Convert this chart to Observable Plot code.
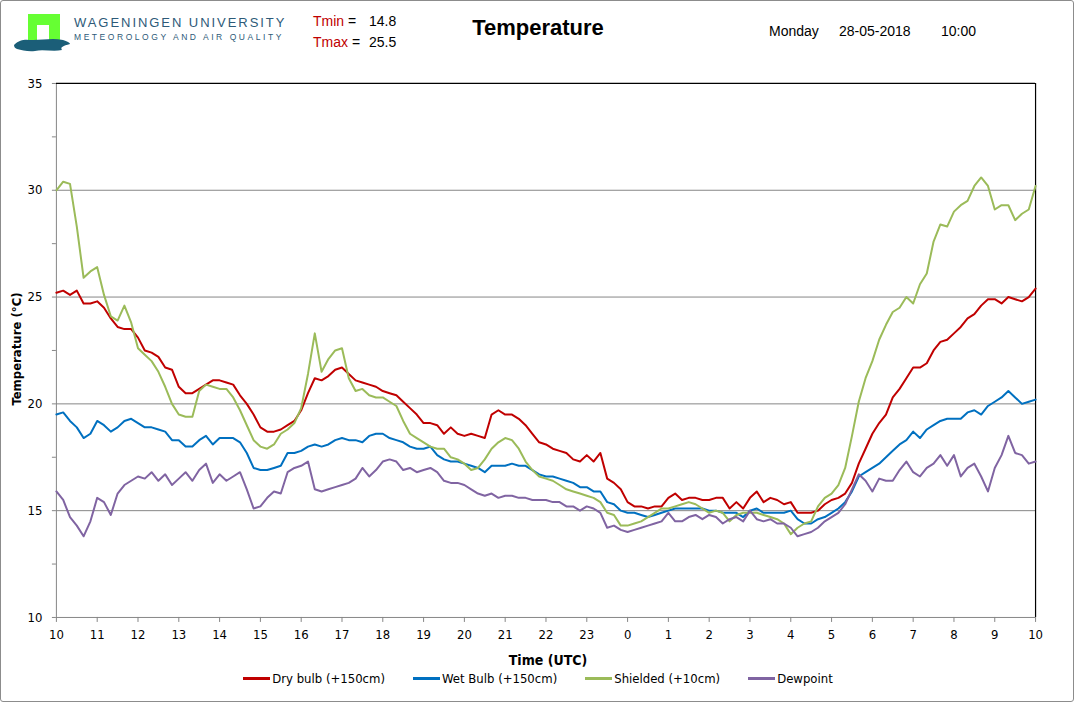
<!DOCTYPE html>
<html>
<head>
<meta charset="utf-8">
<script src="https://cdn.jsdelivr.net/npm/d3@7"></script>
<script src="https://cdn.jsdelivr.net/npm/@observablehq/plot@0.6"></script>
<style>
  html, body { margin: 0; padding: 0; background: #fff; }
  #page { position: relative; width: 1072px; height: 700px; border: 1px solid #8c8c8c; border-radius: 3px; overflow: hidden; background: #fff;
          font-family: 'Liberation Sans Narrow', 'DejaVu Sans Condensed', 'Open Sans', sans-serif; color: #000; }
  .abs { position: absolute; white-space: nowrap; }
  #plotwrap { position: absolute; left: 0; top: 62px; }
  #legend { position: absolute; top: 670px; left: 0; width: 1074px; display: flex; justify-content: center; gap: 28px; font-size: 13px; }
  #legend .item { display: flex; align-items: center; }
  #legend .sw { width: 27px; height: 3px; margin-right: 2px; }
</style>
</head>
<body>
<div id="page">
  <svg class="abs" style="left:12px;top:12px" width="60" height="40" viewBox="0 0 60 40">
    <rect x="15" y="1" width="32" height="28" fill="#66ff33"/>
    <rect x="24" y="12" width="12" height="18" fill="#fff"/>
    <path d="M1,32 C8,25 14,27 20,27 C30,27 40,25 50,27 C54,28 57,30 57,31 C50,33 47,34 49,37 C40,39 30,36 22,38 C15,39 9,37 4,36 C2,35 1,34 1,32 Z" fill="#1b5e78"/>
  </svg>
  <div class="abs" style="left:73px;top:14px;font-family:'Liberation Sans',sans-serif;font-size:13px;letter-spacing:1.95px;color:#2d5a78">WAGENINGEN UNIVERSITY</div>
  <div class="abs" style="left:73px;top:31px;font-family:'Liberation Sans',sans-serif;font-size:8.5px;letter-spacing:2.55px;color:#2d5a78">METEOROLOGY AND AIR QUALITY</div>
  <div class="abs" style="left:312px;top:12px;font-family:'Liberation Sans',sans-serif;font-size:14px"><span style="color:#c00000">Tmin</span> =</div>
  <div class="abs" style="left:368px;top:12px;font-family:'Liberation Sans',sans-serif;font-size:14px" id="tmin"></div>
  <div class="abs" style="left:312px;top:33px;font-family:'Liberation Sans',sans-serif;font-size:14px"><span style="color:#c00000">Tmax</span> =</div>
  <div class="abs" style="left:368px;top:33px;font-family:'Liberation Sans',sans-serif;font-size:14px" id="tmax"></div>
  <div class="abs" style="left:0;width:1074px;top:14px;text-align:center;font-family:'Liberation Sans',sans-serif;font-weight:bold;font-size:22px">Temperature</div>
  <div class="abs" style="left:768px;top:22px;font-family:'Liberation Sans',sans-serif;font-size:14px">Monday</div>
  <div class="abs" style="left:838px;top:22px;font-family:'Liberation Sans',sans-serif;font-size:14px">28-05-2018</div>
  <div class="abs" style="left:940px;top:22px;font-family:'Liberation Sans',sans-serif;font-size:14px">10:00</div>
  <div id="plotwrap"></div>
  <div class="abs" style="left:15px;top:348px;width:0;height:0">
    <div style="position:absolute;transform:translate(-50%,-50%) rotate(-90deg);font-weight:bold;font-size:13px;white-space:nowrap">Temperature (°C)</div>
  </div>
  <div class="abs" style="left:0;width:1094px;top:651px;text-align:center;font-weight:bold;font-size:14px">Time (UTC)</div>
  <div id="legend"></div>
</div>
<script>
// Header values
const tminText = "14.8";
const tmaxText = "25.5";

// Series metadata
const seriesNames = ["Dry bulb (+150cm)", "Wet Bulb (+150cm)", "Shielded (+10cm)", "Dewpoint"];
const seriesColors = ["#c00000", "#0070c0", "#9bbb59", "#8064a2"];

// X tick labels (hours UTC), every hour from 10:00 to 10:00 next day
const hourLabels = [10,11,12,13,14,15,16,17,18,19,20,21,22,23,0,1,2,3,4,5,6,7,8,9,10];
const yTicks = [10, 15, 20, 25, 30, 35];
const yMinorTicks = [12.5, 17.5, 22.5, 27.5, 32.5];

// 10-minute samples, starting 10:00 UTC
const dryBulb = [
25.2,25.3,25.1,25.3,24.7,24.7,24.8,24.5,24.0,23.6,23.5,23.5,23.1,22.5,22.4,22.2,21.7,21.6,20.8,20.5,
20.5,20.7,20.9,21.1,21.1,21.0,20.9,20.4,20.0,19.5,18.9,18.7,18.7,18.8,19.0,19.2,19.7,20.5,21.2,21.1,
21.3,21.6,21.7,21.4,21.1,21.0,20.9,20.8,20.6,20.5,20.4,20.1,19.8,19.5,19.1,19.1,19.0,18.6,18.9,18.6,
18.5,18.6,18.5,18.4,19.5,19.7,19.5,19.5,19.3,19.0,18.6,18.2,18.1,17.9,17.8,17.7,17.4,17.3,17.6,17.3,
17.7,16.5,16.3,16.0,15.4,15.2,15.2,15.1,15.2,15.2,15.6,15.8,15.5,15.6,15.6,15.5,15.5,15.6,15.6,15.1,
15.4,15.1,15.6,15.9,15.4,15.6,15.5,15.3,15.4,14.9,14.9,14.9,15.0,15.3,15.5,15.6,15.8,16.3,17.2,17.9,
18.6,19.1,19.5,20.3,20.7,21.2,21.7,21.7,21.9,22.5,22.9,23.0,23.3,23.6,24.0,24.2,24.6,24.9,24.9,24.7,
25.0,24.9,24.8,25.0,25.4];

const wetBulb = [
19.5,19.6,19.2,18.9,18.4,18.6,19.2,19.0,18.7,18.9,19.2,19.3,19.1,18.9,18.9,18.8,18.7,18.3,18.3,18.0,
18.0,18.3,18.5,18.1,18.4,18.4,18.4,18.2,17.7,17.0,16.9,16.9,17.0,17.1,17.7,17.7,17.8,18.0,18.1,18.0,
18.1,18.3,18.4,18.3,18.3,18.2,18.5,18.6,18.6,18.4,18.3,18.2,18.0,17.9,17.9,18.0,17.6,17.4,17.3,17.3,
17.2,17.1,17.0,16.8,17.1,17.1,17.1,17.2,17.1,17.1,16.9,16.7,16.6,16.6,16.5,16.4,16.3,16.1,16.1,15.9,
15.9,15.4,15.3,15.0,14.9,14.9,14.8,14.7,14.8,14.9,15.0,15.1,15.1,15.1,15.1,15.1,15.0,15.0,14.9,14.9,
14.9,14.7,15.0,15.1,14.9,14.9,14.9,14.9,15.0,14.6,14.4,14.4,14.6,14.7,14.9,15.1,15.4,15.9,16.6,16.8,
17.0,17.2,17.5,17.8,18.1,18.3,18.7,18.4,18.8,19.0,19.2,19.3,19.3,19.3,19.6,19.7,19.5,19.9,20.1,20.3,
20.6,20.3,20.0,20.1,20.2];

const shielded = [
30.0,30.4,30.3,28.3,25.9,26.2,26.4,25.1,24.1,23.9,24.6,23.8,22.6,22.3,22.0,21.5,20.8,20.0,19.5,19.4,
19.4,20.6,20.9,20.8,20.7,20.7,20.3,19.7,19.0,18.3,18.0,17.9,18.1,18.6,18.8,19.1,19.8,21.4,23.3,21.5,
22.1,22.5,22.6,21.2,20.6,20.7,20.4,20.3,20.3,20.1,19.9,19.2,18.6,18.4,18.2,18.0,17.9,17.9,17.5,17.4,
17.2,16.9,17.0,17.4,17.9,18.2,18.4,18.3,17.9,17.3,16.9,16.6,16.5,16.4,16.2,16.0,15.9,15.8,15.7,15.6,
15.4,14.9,14.8,14.3,14.3,14.4,14.5,14.7,14.9,15.1,15.1,15.2,15.3,15.4,15.3,15.1,14.9,15.0,14.9,14.5,
14.8,14.9,14.9,14.9,14.8,14.7,14.6,14.4,13.9,14.2,14.4,14.5,15.2,15.6,15.8,16.2,17.0,18.5,20.1,21.2,
22.0,23.0,23.7,24.3,24.5,25.0,24.7,25.6,26.1,27.6,28.4,28.3,29.0,29.3,29.5,30.2,30.6,30.2,29.1,29.3,
29.3,28.6,28.9,29.1,30.2];

const dewpoint = [
15.9,15.5,14.7,14.3,13.8,14.5,15.6,15.4,14.8,15.8,16.2,16.4,16.6,16.5,16.8,16.4,16.7,16.2,16.5,16.8,
16.4,16.9,17.2,16.3,16.7,16.4,16.6,16.8,16.0,15.1,15.2,15.6,15.9,15.8,16.8,17.0,17.1,17.3,16.0,15.9,
16.0,16.1,16.2,16.3,16.5,17.0,16.6,16.9,17.3,17.4,17.3,16.9,17.0,16.8,16.9,17.0,16.8,16.4,16.3,16.3,
16.2,16.0,15.8,15.7,15.8,15.6,15.7,15.7,15.6,15.6,15.5,15.5,15.5,15.4,15.4,15.2,15.2,15.0,15.2,15.1,
14.9,14.2,14.3,14.1,14.0,14.1,14.2,14.3,14.4,14.5,14.9,14.5,14.5,14.7,14.8,14.6,14.8,14.7,14.4,14.6,
14.7,14.5,15.0,14.6,14.5,14.6,14.4,14.4,14.2,13.8,13.9,14.0,14.2,14.5,14.7,14.9,15.3,16.0,16.7,16.4,
15.9,16.5,16.4,16.4,16.9,17.3,16.8,16.6,17.0,17.2,17.6,17.1,17.6,16.6,17.0,17.2,16.6,15.9,17.0,17.6,
18.5,17.7,17.6,17.2,17.3];

const seriesValues = [dryBulb, wetBulb, shielded, dewpoint];

// Long table: time in hours since 10:00 UTC, sampled every 10 minutes
const rows = [];
seriesValues.forEach((vals, s) => {
  vals.forEach((v, i) => rows.push({series: seriesNames[s], t: i / 6, v}));
});

document.getElementById("tmin").textContent = tminText;
document.getElementById("tmax").textContent = tmaxText;

const fontFam = "'Liberation Sans Narrow', 'DejaVu Sans Condensed', 'Open Sans', sans-serif";

const chart = Plot.plot({
  width: 1074,
  height: 600,
  marginLeft: 55,
  marginRight: 38,
  marginTop: 20,
  marginBottom: 45,
  style: {fontFamily: fontFam, fontSize: "13px", background: "transparent", color: "#000"},
  x: {domain: [0, 24]},
  y: {domain: [10, 35]},
  color: {domain: seriesNames, range: seriesColors},
  marks: [
    Plot.ruleY(yTicks.slice(1, -1), {stroke: "#868686", strokeWidth: 1}),
    Plot.ruleY([10], {stroke: "#868686", strokeWidth: 1}),
    Plot.ruleX([0], {stroke: "#868686", strokeWidth: 1}),
    Plot.ruleY([35], {stroke: "#000", strokeWidth: 1.2}),
    Plot.ruleX([24], {stroke: "#000", strokeWidth: 1.2}),
    Plot.lineY(rows, {x: "t", y: "v", z: "series", stroke: "series", strokeWidth: 2, curve: "linear"}),
    Plot.axisX(d3.range(0, 25), {
      anchor: "bottom", tickSize: 5, tickPadding: 7, stroke: "#868686", strokeOpacity: 1,
      tickFormat: (d, i) => hourLabels[i], label: null, fontSize: 13
    }),
    Plot.axisY(yTicks, {
      anchor: "left", tickSize: 4, tickPadding: 10, stroke: "#868686", strokeOpacity: 1,
      label: null, fontSize: 13
    }),
    Plot.axisY(yMinorTicks, {
      anchor: "left", tickSize: 4, text: null, stroke: "#868686", strokeOpacity: 1, label: null
    })
  ]
});
document.getElementById("plotwrap").appendChild(chart);

// Legend
const legend = document.getElementById("legend");
seriesNames.forEach((name, i) => {
  const item = document.createElement("div");
  item.className = "item";
  const sw = document.createElement("span");
  sw.className = "sw";
  sw.style.background = seriesColors[i];
  const tx = document.createElement("span");
  tx.textContent = name;
  item.appendChild(sw);
  item.appendChild(tx);
  legend.appendChild(item);
});
</script>
</body>
</html>
